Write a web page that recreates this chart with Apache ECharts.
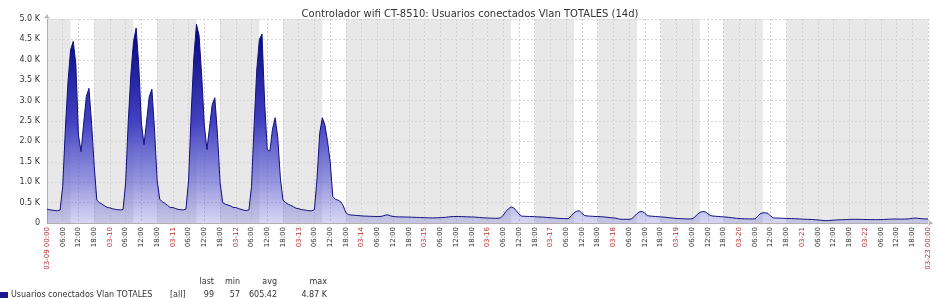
<!DOCTYPE html>
<html>
<head>
<meta charset="utf-8">
<title>Usuarios conectados Vlan TOTALES</title>
<script src="https://cdn.jsdelivr.net/npm/echarts@6/dist/echarts.min.js"></script>
<style>
    html, body { margin: 0; padding: 0; background: #fff; }
    #chartContainer { width: 940px; height: 298px; }
</style>
</head>
<body>
<div id="chartContainer"></div>
<script>
(function () {

    'use strict';

    // hourly values, one array per day (00:00 .. 23:00)
    var d0309 = [340, 325, 315, 305, 300, 320, 900, 2300, 3450, 4250, 4450, 3900, 2150, 1750, 2450, 3100, 3300, 2450, 1400, 560, 500, 460, 420, 380];
    var d0310 = [370, 350, 335, 325, 320, 330, 1000, 2500, 3650, 4450, 4780, 3850, 2450, 1920, 2500, 3100, 3280, 2300, 1050, 580, 520, 480, 430, 380];
    var d0311 = [380, 355, 335, 325, 320, 340, 1050, 2700, 4050, 4870, 4600, 3600, 2400, 1800, 2350, 2900, 3070, 2200, 1000, 500, 460, 440, 420, 380];
    var d0312 = [380, 355, 335, 315, 305, 320, 900, 2400, 3750, 4500, 4630, 2950, 1800, 1760, 2300, 2580, 2100, 1100, 560, 500, 460, 430, 400, 360];
    var d0313 = [350, 330, 320, 310, 300, 300, 330, 1100, 2200, 2580, 2400, 2000, 1500, 650, 580, 560, 520, 420, 250, 205, 195, 190, 185, 180];
    var d0314 = [175, 170, 168, 165, 162, 160, 158, 160, 170, 190, 200, 175, 160, 155, 150, 150, 148, 145, 145, 142, 140, 138, 135, 132];
    var d0315 = [130, 128, 125, 125, 125, 128, 130, 135, 140, 148, 155, 158, 160, 160, 158, 155, 152, 150, 148, 145, 140, 135, 130, 125];
    var d0316 = [122, 120, 118, 115, 115, 125, 190, 280, 350, 395, 370, 300, 220, 170, 165, 162, 160, 158, 155, 150, 148, 145, 140, 135];
    var d0317 = [130, 125, 120, 115, 110, 108, 105, 110, 180, 250, 290, 300, 240, 185, 172, 168, 165, 160, 158, 155, 150, 145, 138, 130];
    var d0318 = [125, 118, 100, 92, 90, 90, 90, 105, 160, 230, 275, 280, 240, 180, 170, 165, 160, 155, 150, 145, 140, 132, 125, 118];
    var d0319 = [112, 108, 105, 102, 100, 100, 102, 140, 210, 260, 280, 275, 230, 185, 170, 165, 160, 155, 150, 145, 138, 130, 122, 115];
    var d0320 = [110, 106, 103, 100, 100, 100, 102, 160, 230, 250, 250, 235, 170, 125, 122, 120, 118, 115, 112, 110, 108, 105, 102, 100];
    var d0321 = [95, 92, 90, 88, 85, 80, 75, 68, 60, 57, 60, 65, 70, 75, 78, 80, 82, 85, 88, 90, 90, 90, 88, 88];
    var d0322 = [86, 85, 84, 83, 82, 82, 84, 86, 90, 93, 96, 98, 98, 96, 95, 95, 98, 105, 115, 120, 116, 108, 102, 100];
    var lastValue = [99];

    var days = ['03-09', '03-10', '03-11', '03-12', '03-13', '03-14', '03-15',
                '03-16', '03-17', '03-18', '03-19', '03-20', '03-21', '03-22', '03-23'];
    var workDays = ['03-09', '03-10', '03-11', '03-12', '03-13',
                    '03-16', '03-17', '03-18', '03-19', '03-20'];
    var yTicks = [0, 500, 1000, 1500, 2000, 2500, 3000, 3500, 4000, 4500, 5000];

    var seriesName = 'Usuarios conectados Vlan TOTALES';
    var statNames = ['last', 'min', 'avg', 'max'];
    var statValues = ['99', '57', '605.42', '4.87 K'];

    var values = [].concat(d0309, d0310, d0311, d0312, d0313, d0314, d0315,
        d0316, d0317, d0318, d0319, d0320, d0321, d0322, lastValue);

    var times = [];
    for (var d = 0; d < days.length - 1; d++) {
        for (var h = 0; h < 24; h++) {
            times.push(days[d] + ' ' + (h < 10 ? '0' + h : h) + ':00');
        }
    }
    times.push(days[days.length - 1] + ' 00:00');

    // non working time (grey bands), as category index ranges
    var bands = [];
    for (var k = 0; k < days.length - 1; k++) {
        var s = k * 24;
        if (workDays.indexOf(days[k]) >= 0) {
            bands.push([s, s + 9, 0]);
            bands.push([s + 18, s + 24, 0]);
        } else {
            bands.push([s, s + 24, 0]);
        }
    }

    var font = 'DejaVu Sans';
    var everySix = function (i) { return i % 6 === 0; };

    var statGraphics = [];
    var statRight = [214, 240, 277, 327];
    for (var n = 0; n < statNames.length; n++) {
        statGraphics.push({
            type: 'text', x: statRight[n], y: 282,
            style: { text: statNames[n], fill: '#333', font: '8px "' + font + '"', align: 'right', verticalAlign: 'middle' }
        });
        statGraphics.push({
            type: 'text', x: statRight[n], y: 294.5,
            style: { text: statValues[n], fill: '#333', font: '8px "' + font + '"', align: 'right', verticalAlign: 'middle' }
        });
    }
    statGraphics.push({
        type: 'text', x: 170, y: 294.5,
        style: { text: '[all]', fill: '#333', font: '8px "' + font + '"', align: 'left', verticalAlign: 'middle' }
    });

    var option = {
        animation: false,
        backgroundColor: '#ffffff',
        title: {
            text: 'Controlador wifi CT-8510: Usuarios conectados Vlan TOTALES (14d)',
            left: 'center',
            top: 4,
            textStyle: { fontFamily: font, fontSize: 10, fontWeight: 'normal', color: '#333' }
        },
        legend: {
            data: [seriesName],
            left: 0,
            top: 291,
            padding: 0,
            icon: 'rect',
            itemWidth: 8,
            itemHeight: 6,
            itemGap: 4,
            textStyle: { fontFamily: font, fontSize: 8, color: '#333', padding: [0, 0, 0, -2] }
        },
        graphic: statGraphics,
        grid: {
            left: 47,
            right: 12,
            top: 19,
            bottom: 75
        },
        xAxis: {
            type: 'category',
            data: times,
            boundaryGap: false,
            z: 1,
            axisLine: {
                show: true,
                symbol: ['none', 'arrow'],
                symbolSize: [4, 5],
                symbolOffset: [0, 5],
                lineStyle: { color: '#b0b0b0' }
            },
            axisTick: { show: false },
            axisLabel: {
                interval: everySix,
                rotate: 90,
                margin: 4,
                fontFamily: font,
                fontSize: 7,
                hideOverlap: false,
                showMinLabel: true,
                showMaxLabel: true,
                formatter: function (v, i) {
                    if (i === 0 || i === times.length - 1) {
                        return v;
                    }
                    var p = v.split(' ');
                    return p[1] === '00:00' ? p[0] : p[1];
                },
                color: function (v) {
                    return v.slice(6) === '00:00' ? '#b83232' : '#333';
                }
            },
            splitLine: {
                show: true,
                interval: everySix,
                lineStyle: { color: '#cfcfcf', type: [2, 2] }
            }
        },
        yAxis: {
            type: 'value',
            min: yTicks[0],
            max: yTicks[yTicks.length - 1],
            interval: yTicks[1] - yTicks[0],
            z: 1,
            axisLine: {
                show: true,
                symbol: ['none', 'arrow'],
                symbolSize: [4, 5],
                symbolOffset: [0, 5],
                lineStyle: { color: '#b0b0b0' }
            },
            axisTick: { show: false },
            axisLabel: {
                margin: 7,
                fontFamily: font,
                fontSize: 8,
                color: '#333',
                formatter: function (v) {
                    return v === 0 ? '0' : (v / 1000).toFixed(1) + ' K';
                }
            },
            splitLine: {
                show: true,
                lineStyle: { color: '#d6d6d6', type: [2, 2] }
            }
        },
        series: [
            {
                type: 'custom',
                name: 'nonWorking',
                z: 0,
                silent: true,
                encode: { x: [0, 1], y: 2 },
                data: bands,
                renderItem: function (params, api) {
                    var a = api.coord([api.value(0), 0]);
                    var b = api.coord([api.value(1), 0]);
                    var cs = params.coordSys;
                    return {
                        type: 'rect',
                        shape: { x: a[0], y: cs.y, width: b[0] - a[0], height: cs.height },
                        style: { fill: '#e8e8e8' }
                    };
                }
            },
            {
                name: seriesName,
                type: 'line',
                z: 2,
                data: values,
                showSymbol: false,
                smooth: false,
                lineStyle: { color: '#10107e', width: 1 },
                itemStyle: { color: '#1a1a90' },
                areaStyle: {
                    opacity: 1,
                    color: {
                        type: 'linear',
                        x: 0, y: 19, x2: 0, y2: 223,
                        global: true,
                        colorStops: [
                            { offset: 0, color: 'rgba(0, 0, 120, 1)' },
                            { offset: 0.5, color: 'rgba(55, 55, 190, 0.95)' },
                            { offset: 0.8, color: 'rgba(105, 105, 210, 0.7)' },
                            { offset: 1, color: 'rgba(120, 120, 215, 0.3)' }
                        ]
                    }
                }
            }
        ]
    };

    var chart = echarts.init(document.getElementById('chartContainer'), null, { renderer: 'canvas' });
    chart.setOption(option);
}());
</script>
</body>
</html>
